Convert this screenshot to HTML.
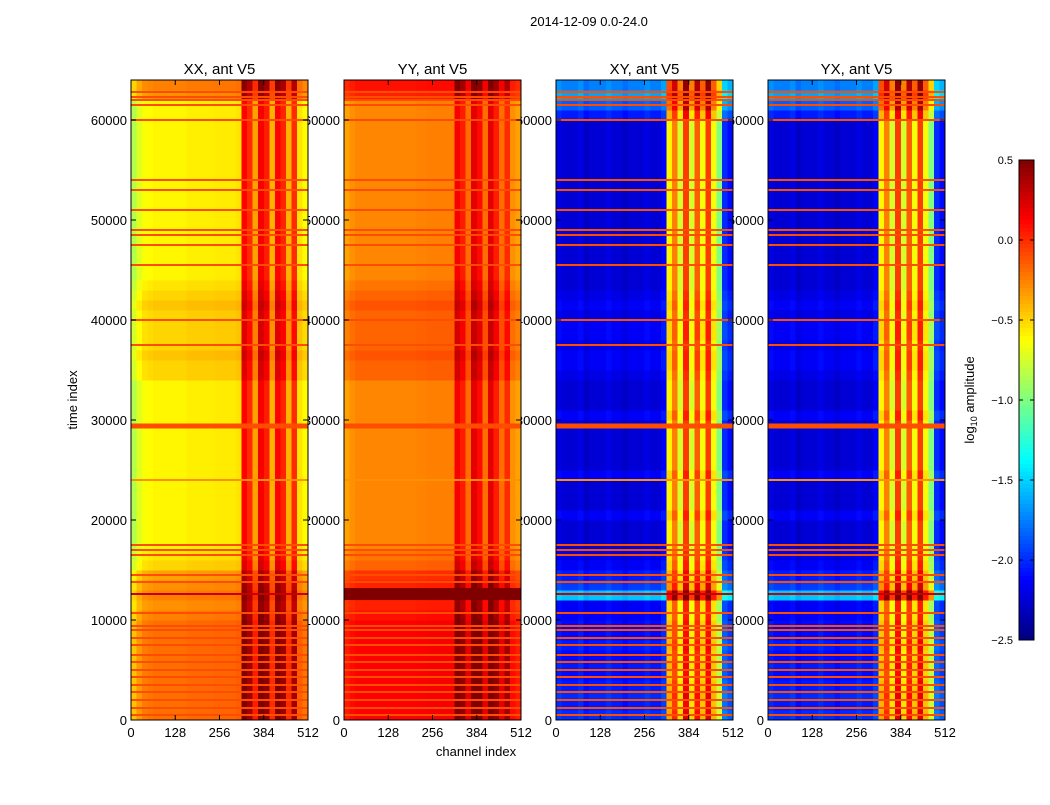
<!DOCTYPE html>
<html><head><meta charset="utf-8"><style>
body{margin:0;background:#fff;}
svg{font-family:"Liberation Sans",sans-serif;}
</style></head><body>
<svg id="fig" width="1050" height="800" xmlns="http://www.w3.org/2000/svg">
<rect width="1050" height="800" fill="#fff"/>
<text x="589" y="26" font-size="13" text-anchor="middle">2014-12-09 0.0-24.0</text>
<text transform="translate(77,400) rotate(-90)" font-size="13" text-anchor="middle">time index</text>
<text x="476" y="756" font-size="13" text-anchor="middle">channel index</text>
<text transform="translate(974,400) rotate(-90)" font-size="13" text-anchor="middle">log<tspan font-size="9" dy="3">10</tspan><tspan dy="-3"> amplitude</tspan></text>
<g id="labels"></g>
<g id="maps"></g>
<g id="frames"></g>
</svg>
<script>
const panelTitles=["XX, ant V5","YY, ant V5","XY, ant V5","YX, ant V5"];
const xTicks=[0,128,256,384,512];
const yTicks=[0,10000,20000,30000,40000,50000,60000];
const cbTicks=[0.5,0.0,-0.5,-1.0,-1.5,-2.0,-2.5];
// column profiles (32 bins x 16 channels), log10 amplitude
const colXX=[-0.85,-0.72,-0.64,-0.62,-0.6,-0.6,-0.6,-0.6,-0.6,-0.6,-0.58,-0.58,-0.58,-0.58,-0.58,-0.57,-0.57,-0.57,-0.57,-0.55,0.12,0.0,-0.35,0.15,0.05,-0.4,0.12,0.02,-0.4,0.0,-0.55,-0.62];
const colYY=[-0.35,-0.3,-0.27,-0.27,-0.27,-0.27,-0.27,-0.27,-0.27,-0.27,-0.27,-0.27,-0.27,-0.26,-0.26,-0.25,-0.25,-0.25,-0.25,-0.25,0.15,0.05,-0.2,0.2,0.1,-0.2,0.2,0.05,-0.2,0.0,-0.3,-0.35];
const colXY=[-2.2,-2.25,-2.25,-2.25,-2.2,-2.3,-2.25,-2.25,-2.25,-2.2,-2.25,-2.25,-2.3,-2.25,-2.25,-2.25,-2.2,-2.25,-2.25,-2.15,-0.6,-0.25,-0.75,-0.05,-0.75,-0.15,-0.65,-0.05,-0.65,-1.0,-2.0,-2.1];
const colYX=[-2.2,-2.25,-2.25,-2.25,-2.2,-2.3,-2.25,-2.25,-2.25,-2.2,-2.25,-2.25,-2.3,-2.25,-2.25,-2.25,-2.2,-2.25,-2.25,-2.15,-0.6,-0.25,-0.75,-0.05,-0.75,-0.15,-0.65,-0.05,-0.65,-1.0,-2.0,-2.1];
// row offsets (64 rows x 1000 time index)
const rowPar=[0.4,0.4,0.4,0.4,0.4,0.4,0.4,0.4,0.4,0.4,0.35,0.3,0.35,0.3,0.25,0.1,0.05,0,0,0,0,0,0,0,0,0,0,0,0,0,0,0,0,0,0.1,0.1,0.15,0.1,0.1,0.1,0.1,0.15,0.1,0.05,0,0,0,0,0,0,0,0,0,0,0,0,0,0,0,0,0,0,0.3,0.35];
const rowCross=[0.25,0.2,0.25,0.2,0.15,0.2,0.15,0.2,0.15,0.15,0.1,0.1,0.7,0.3,0.2,0.1,0.05,0,0,0,0.1,0,0,0,0.1,0,0,0,0,0,0.1,0,0,0,0.05,0.1,0.1,0.05,0.1,0.1,0.05,0.1,0.05,0,0,0,0,0,0,0,0,0,0,0,0,0,0,0,0,0,0.2,0.4,0.6,0.5];
// horizontal RFI lines: time index and value
const lineTimes=[500,1200,2000,2800,3500,4300,5000,5800,6500,7500,8200,9000,9400,10700,12600,13800,14500,16500,17000,17500,24000,29400,37500,40000,45500,47500,48500,49000,51000,53000,54000,60000,61500,62000,62300,62800];
const lineVals=[-0.1,-0.1,-0.1,-0.1,-0.1,-0.1,-0.1,-0.1,-0.1,-0.1,-0.1,-0.1,-0.1,-0.1,0.3,-0.1,-0.1,-0.1,-0.1,-0.1,-0.3,-0.1,-0.1,-0.1,-0.1,-0.1,-0.1,-0.1,-0.1,-0.1,-0.1,-0.1,-0.1,-0.1,-0.1,-0.1];
const cols=[colXX,colYY,colXY,colYX];
const rows=[rowPar,rowPar,rowCross,rowCross];
const panelX=[131,344,556,768];
const W=177,TOP=80,H=640,TMAX=64000,CMAX=512;
const NS="http://www.w3.org/2000/svg";
function jet(v){let t=(v+2.5)/3;t=Math.max(0,Math.min(1,t));
 const f=x=>Math.max(0,Math.min(1,x));
 const r=f(Math.min(4*t-1.5,-4*t+4.5)),g=f(Math.min(4*t-0.5,-4*t+3.5)),b=f(Math.min(4*t+0.5,-4*t+2.5));
 return `rgb(${Math.round(r*255)},${Math.round(g*255)},${Math.round(b*255)})`;}
function mk(tag,attrs,parent){const e=document.createElementNS(NS,tag);for(const k in attrs)e.setAttribute(k,attrs[k]);parent.appendChild(e);return e;}
const labels=document.getElementById('labels'),maps=document.getElementById('maps'),frames=document.getElementById('frames');
for(let p=0;p<4;p++){
 const x0=panelX[p];
 const sx=c=>x0+c/CMAX*W, sy=t=>TOP+H-t/TMAX*H;
 const g=mk('g',{},maps);
 
 
 const cp=cols[p],rp=rows[p],cw=CMAX/cp.length,rh=TMAX/rp.length;
 for(let r=0;r<rp.length;r++)for(let c=0;c<cp.length;c++){
  const x1=sx(c*cw),x2=sx((c+1)*cw),y1=sy((r+1)*rh),y2=sy(r*rh);
  const e=mk('rect',{x:x1.toFixed(2),y:y1.toFixed(2),width:(x2-x1+0.5).toFixed(2),height:(y2-y1+0.5).toFixed(2),fill:jet(cp[c]+rp[r]),'shape-rendering':'crispEdges'},g);
  
  
 }
 for(let i=0;i<lineTimes.length;i++){
  const th=lineTimes[i]===29400?500:(lineTimes[i]===12600&&p===1?1200:200);
  const e=mk('rect',{x:x0,y:sy(lineTimes[i]+th/2).toFixed(2),width:W,height:(th/TMAX*H).toFixed(2),fill:jet(lineVals[i]+(p===1&&lineTimes[i]===12600?0.2:0))},g);
  
  
 }
 const fr=mk('rect',{x:x0,y:TOP,width:W,height:H,fill:'none',stroke:'#000','stroke-width':1},frames);
 
 
 const tt=mk('text',{x:x0+W/2,y:TOP-6,'font-size':15,'text-anchor':'middle'},labels);tt.textContent=panelTitles[p];
 
 
 xTicks.forEach(v=>{const x=sx(v);
  mk('line',{x1:x,x2:x,y1:TOP+H,y2:TOP+H-5,stroke:'#000'},frames);
  mk('line',{x1:x,x2:x,y1:TOP,y2:TOP+5,stroke:'#000'},frames);
  const t=mk('text',{x:x,y:TOP+H+17,'font-size':13,'text-anchor':'middle'},labels);t.textContent=v;
  
  });
 yTicks.forEach(v=>{const y=sy(v);
  mk('line',{x1:x0,x2:x0+5,y1:y,y2:y,stroke:'#000'},frames);
  mk('line',{x1:x0+W,x2:x0+W-5,y1:y,y2:y,stroke:'#000'},frames);
  const t=mk('text',{x:x0-4,y:y+5,'font-size':13,'text-anchor':'end'},labels);t.textContent=v;
  
  });
}
// colorbar
const cb=mk('g',{},maps);


const CBX=1019,CBY=160,CBH=480,CBW=15;
for(let i=0;i<120;i++){const v=0.5-3*(i+0.5)/120;
 mk('rect',{x:CBX,y:CBY+i*CBH/120,width:CBW,height:CBH/120+0.5,fill:jet(v),'shape-rendering':'crispEdges'},cb);}
mk('rect',{x:CBX,y:CBY,width:CBW,height:CBH,fill:'none',stroke:'#000'},frames);
cbTicks.forEach(v=>{const y=CBY+(0.5-v)/3*CBH;
 mk('line',{x1:CBX,x2:CBX+4,y1:y,y2:y,stroke:'#000'},frames);
 mk('line',{x1:CBX+CBW,x2:CBX+CBW-4,y1:y,y2:y,stroke:'#000'},frames);
 const t=mk('text',{x:1013,y:y+4,'font-size':11,'text-anchor':'end'},labels);
 t.textContent=v.toFixed(1).replace('-','\u2212');
 
 });
</script>
</body></html>
